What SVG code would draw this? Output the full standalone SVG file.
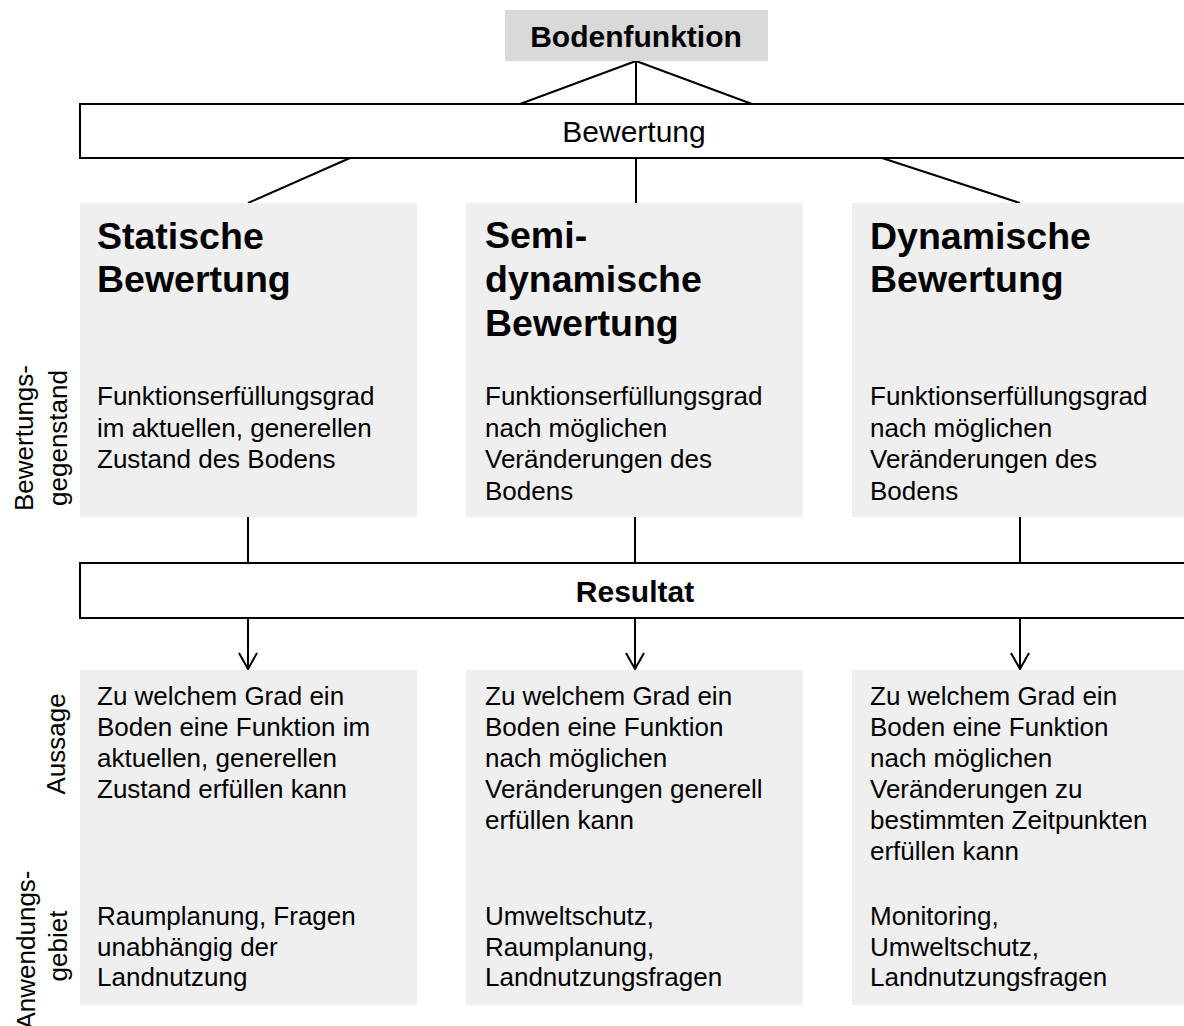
<svg xmlns="http://www.w3.org/2000/svg" width="1184" height="1026" viewBox="0 0 1184 1026">
<style>
text{font-family:"Liberation Sans",Arial,sans-serif;fill:#000}
.box{fill:#efefef}
.bar{fill:#fff;stroke:#000;stroke-width:2}
.ln{stroke:#000;stroke-width:2;fill:none}
.body{font-size:26px}
.title{font-size:37.5px;font-weight:bold}
.hdr{font-size:30px;font-weight:bold}
.side{font-size:26px}
</style>
<defs>
<marker id="arr" markerWidth="20" markerHeight="20" refX="17" refY="10" orient="auto" markerUnits="userSpaceOnUse" viewBox="0 0 20 20">
<path d="M1,1 L17,10 L1,19" fill="none" stroke="#000" stroke-width="2"/>
</marker>
</defs>
<rect width="1184" height="1026" fill="#fff"/>

<g id="connectors">
<line class="ln" x1="636" y1="61" x2="520" y2="104"/>
<line class="ln" x1="636" y1="61" x2="636" y2="104"/>
<line class="ln" x1="636" y1="61" x2="752" y2="104"/>
<line class="ln" x1="350" y1="158" x2="248" y2="203"/>
<line class="ln" x1="636" y1="158" x2="636" y2="203"/>
<line class="ln" x1="882" y1="158" x2="1020" y2="203"/>
<line class="ln" x1="248" y1="517" x2="248" y2="563"/>
<line class="ln" x1="635" y1="517" x2="635" y2="563"/>
<line class="ln" x1="1020" y1="517" x2="1020" y2="563"/>
<line class="ln" x1="248" y1="618" x2="248" y2="669" marker-end="url(#arr)"/>
<line class="ln" x1="635" y1="618" x2="635" y2="669" marker-end="url(#arr)"/>
<line class="ln" x1="1020" y1="618" x2="1020" y2="669" marker-end="url(#arr)"/>
</g>

<g id="bodenfunktion">
<rect x="505" y="10" width="263" height="51" fill="#d9d9d9"/>
<text class="hdr" x="636" y="47" text-anchor="middle">Bodenfunktion</text>
</g>

<g id="bewertung">
<rect class="bar" x="80" y="104" width="1120" height="54"/>
<text x="634" y="142" text-anchor="middle" font-size="30">Bewertung</text>
</g>

<g id="statisch">
<rect class="box" x="80" y="203" width="337" height="314"/>
<text class="title" x="97" y="249">Statische</text>
<text class="title" x="97" y="292">Bewertung</text>
<text class="body" x="97" y="405">Funktionserfüllungsgrad</text>
<text class="body" x="97" y="436.5">im aktuellen, generellen</text>
<text class="body" x="97" y="468">Zustand des Bodens</text>
</g>

<g id="semidynamisch">
<rect class="box" x="466" y="203" width="337" height="314"/>
<text class="title" x="485" y="248">Semi-</text>
<text class="title" x="485" y="292">dynamische</text>
<text class="title" x="485" y="336">Bewertung</text>
<text class="body" x="485" y="405">Funktionserfüllungsgrad</text>
<text class="body" x="485" y="436.5">nach möglichen</text>
<text class="body" x="485" y="468">Veränderungen des</text>
<text class="body" x="485" y="499.5">Bodens</text>
</g>

<g id="dynamisch">
<rect class="box" x="852" y="203" width="340" height="314"/>
<text class="title" x="870" y="249">Dynamische</text>
<text class="title" x="870" y="292">Bewertung</text>
<text class="body" x="870" y="405">Funktionserfüllungsgrad</text>
<text class="body" x="870" y="436.5">nach möglichen</text>
<text class="body" x="870" y="468">Veränderungen des</text>
<text class="body" x="870" y="499.5">Bodens</text>
</g>

<g id="resultat">
<rect class="bar" x="80" y="563" width="1120" height="55"/>
<text class="hdr" x="635" y="602" text-anchor="middle">Resultat</text>
</g>

<g id="aussage-statisch">
<rect class="box" x="80" y="670" width="337" height="335"/>
<text class="body" x="97" y="705">Zu welchem Grad ein</text>
<text class="body" x="97" y="736">Boden eine Funktion im</text>
<text class="body" x="97" y="767">aktuellen, generellen</text>
<text class="body" x="97" y="798">Zustand erfüllen kann</text>
<text class="body" x="97" y="925">Raumplanung, Fragen</text>
<text class="body" x="97" y="955.5">unabhängig der</text>
<text class="body" x="97" y="986">Landnutzung</text>
</g>

<g id="aussage-semidynamisch">
<rect class="box" x="466" y="670" width="337" height="335"/>
<text class="body" x="485" y="705">Zu welchem Grad ein</text>
<text class="body" x="485" y="736">Boden eine Funktion</text>
<text class="body" x="485" y="767">nach möglichen</text>
<text class="body" x="485" y="798">Veränderungen generell</text>
<text class="body" x="485" y="829">erfüllen kann</text>
<text class="body" x="485" y="925">Umweltschutz,</text>
<text class="body" x="485" y="955.5">Raumplanung,</text>
<text class="body" x="485" y="986">Landnutzungsfragen</text>
</g>

<g id="aussage-dynamisch">
<rect class="box" x="852" y="670" width="340" height="335"/>
<text class="body" x="870" y="705">Zu welchem Grad ein</text>
<text class="body" x="870" y="736">Boden eine Funktion</text>
<text class="body" x="870" y="767">nach möglichen</text>
<text class="body" x="870" y="798">Veränderungen zu</text>
<text class="body" x="870" y="829">bestimmten Zeitpunkten</text>
<text class="body" x="870" y="860">erfüllen kann</text>
<text class="body" x="870" y="925">Monitoring,</text>
<text class="body" x="870" y="955.5">Umweltschutz,</text>
<text class="body" x="870" y="986">Landnutzungsfragen</text>
</g>

<g id="labels">
<text class="side" transform="translate(33,438) rotate(-90)" text-anchor="middle">Bewertungs-</text>
<text class="side" transform="translate(67,438) rotate(-90)" text-anchor="middle">gegenstand</text>
<text class="side" transform="translate(65,744) rotate(-90)" text-anchor="middle">Aussage</text>
<text class="side" transform="translate(35,950) rotate(-90)" text-anchor="middle">Anwendungs-</text>
<text class="side" transform="translate(67,946) rotate(-90)" text-anchor="middle">gebiet</text>
</g>
</svg>
